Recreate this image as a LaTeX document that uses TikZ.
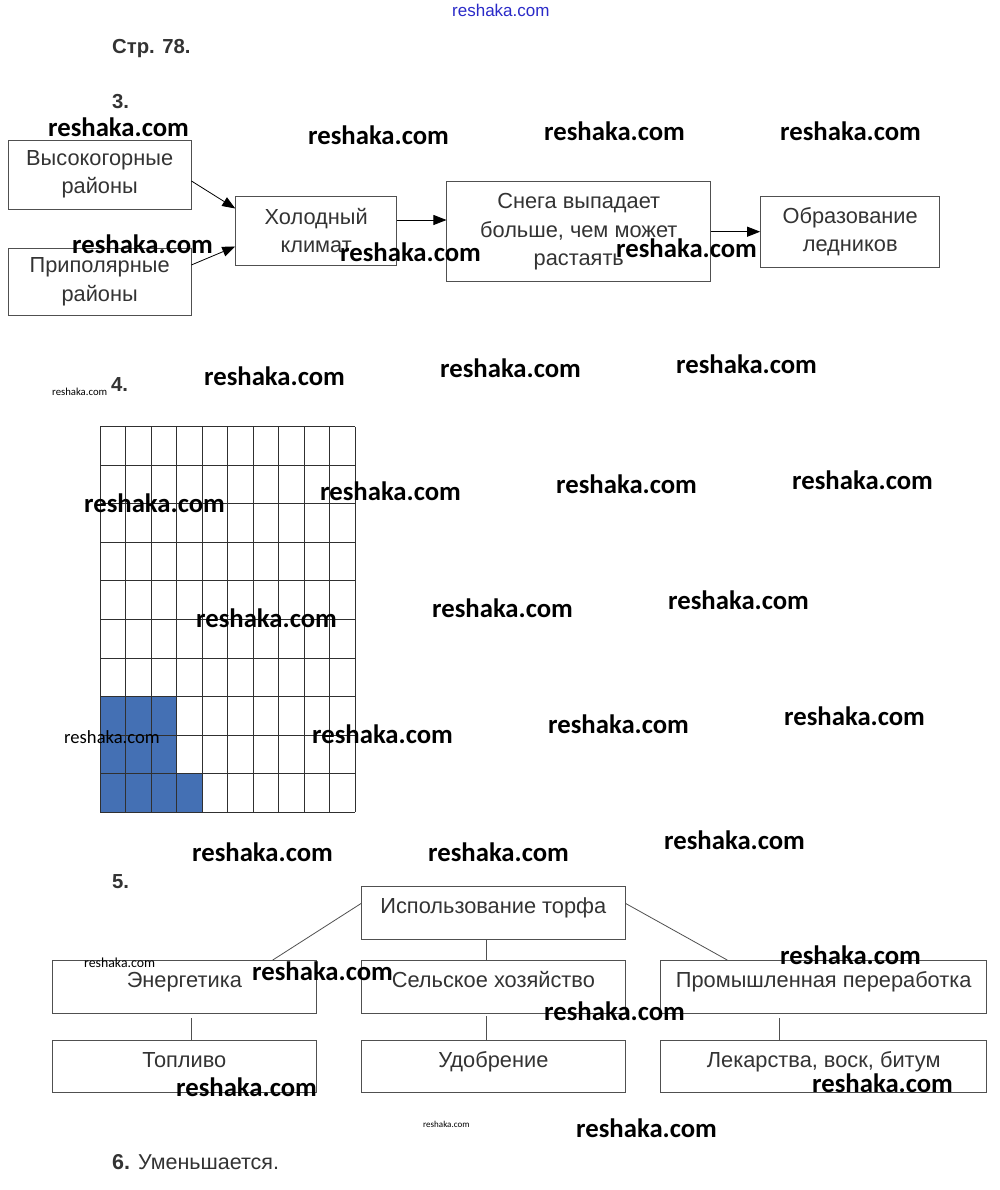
\documentclass[tikz,border=0pt]{standalone}
\usepackage{fontspec}
\setmainfont{Liberation Sans}
\newfontfamily\wmfont{Carlito}
\usetikzlibrary{arrows.meta}
\definecolor{txt}{HTML}{333333}
\definecolor{boxc}{HTML}{505050}
\definecolor{gridc}{HTML}{303030}
\definecolor{cellblue}{HTML}{4470B4}
\definecolor{wmblue}{HTML}{2A2AC8}
\begin{document}
\begin{tikzpicture}[x=1pt,y=-1pt,
  box/.style={draw=boxc, line width=0.9pt, inner sep=0pt, text=txt, align=center, font=\fontsize{21.8}{28.5}\selectfont},
  sbox/.style={draw=boxc, line width=0.9pt, inner sep=0pt, text=txt, font=\fontsize{21.8}{24}\selectfont, text height=15.5pt, text depth=14pt, minimum height=52.5pt},
  arr/.style={-{Triangle[length=13pt,width=10pt]}, line width=0.8pt, black},
  con/.style={line width=0.8pt, draw=boxc},
  wm/.style={anchor=base west, inner sep=0pt, font=\wmfont\bfseries\fontsize{26.7}{30}\selectfont, text=black},
  wms/.style={anchor=base west, inner sep=0pt, text=black},
  hd/.style={anchor=base west, inner sep=0pt, text=txt, font=\bfseries\fontsize{20.3}{22}\selectfont}
]
\fill[white] (0,0) rectangle (1000,1190);
\useasboundingbox (0,0) rectangle (1000,1190);

% header
\node[anchor=base west, inner sep=0pt, text=wmblue, font=\fontsize{17}{20}\selectfont] (top) at (452,17) {reshaka.com};
\node[hd] (h0) at (112,54) {Стр. 78.};
\node[hd] (h3) at (112,109) {3.};

% section 3
\node[box, minimum width=182.7pt, minimum height=69pt] (A) at (99.65,174.5) {Высокогорные\\районы};
\node[box, minimum width=182.7pt, minimum height=66.7pt] (B) at (99.65,281.65) {Приполярные\\районы};
\node[box, minimum width=161pt, minimum height=69pt] (C) at (316.2,230.5) {Холодный\\климат};
\node[box, minimum width=263.7pt, minimum height=99.8pt] (D) at (578.75,231.7) {Снега выпадает\\больше, чем может\\растаять};
\node[box, minimum width=179.2pt, minimum height=70.6pt] (E) at (850.2,231.7) {Образование\\ледников};
\draw[arr] ([yshift=-6.5pt]A.east) -- ([yshift=22pt]C.west);
\draw[arr] ([yshift=16.7pt]B.east) -- ([yshift=-16pt]C.west);
\draw[arr] ([yshift=10.5pt]C.east) -- ([yshift=10.5pt]C.east -| D.west);
\draw[arr] (D.east) -- (E.west);

% section 4
\node[hd] (h4) at (111,391) {4.};
\fill[cellblue] (100,696.6) rectangle (176.6,812.3);
\fill[cellblue] (176.6,773.75) rectangle (202.1,812.3);
\foreach \i in {0,...,10} \draw[gridc, line width=0.9pt] (100+\i*25.53, 426.7) -- (100+\i*25.53, 812.3);
\foreach \j in {0,...,10} \draw[gridc, line width=0.9pt] (100, 426.7+\j*38.56) -- (355.3, 426.7+\j*38.56);

% section 5
\node[hd] (h5) at (112,888) {5.};
\node[sbox, minimum width=263.3pt] (T) at (493.35,912.85) {Использование торфа};
\node[sbox, minimum width=263.3pt] (E1) at (184.35,986.75) {Энергетика};
\node[sbox, minimum width=263.3pt] (S) at (493.35,986.75) {Сельское хозяйство};
\node[sbox, minimum width=326pt] (P) at (823.7,986.75) {Промышленная переработка};
\node[sbox, minimum width=263.3pt] (F) at (184.35,1066.6) {Топливо};
\node[sbox, minimum width=263.3pt] (U) at (493.35,1066.6) {Удобрение};
\node[sbox, minimum width=326pt] (L) at (823.7,1066.6) {Лекарства, воск, битум};
\draw[con] ([yshift=9.5pt]T.west) -- ([xshift=88.35pt]E1.north);
\draw[con] ([yshift=9.5pt]T.east) -- ([xshift=-96.4pt]P.north);
\draw[con] ([xshift=-6.6pt]T.south) -- ([xshift=-6.6pt]S.north);
\draw[con] ([xshift=-6.6pt,yshift=-3pt]S.south) -- ([xshift=-6.6pt]U.north);
\draw[con] ([xshift=6.65pt,yshift=-5pt]E1.south) -- ([xshift=6.65pt]F.north);
\draw[con] ([xshift=-44.4pt,yshift=-5pt]P.south) -- ([xshift=-44.4pt]L.north);

% section 6
\node[anchor=base west, inner sep=0pt, text=txt, font=\fontsize{21.5}{24}\selectfont] (h6) at (112,1169) {\textbf{6.} Уменьшается.};

% watermarks
\foreach \x/\y [count=\k] in {48/137, 308/145, 544/141, 780/141, 72/253, 340/261, 616/257,
  204/385, 440/377, 676/373, 84/512, 320/500, 556/493, 792/489, 196/627, 432/617, 668/609,
  312/743, 548/733, 784/725, 192/861, 428/861, 664/849, 252/980, 780/964, 544/1020,
  176/1096, 812/1092, 576/1137}
  \node[wm] (w\k) at (\x,\y) {reshaka.com};
\node[wms, font=\wmfont\fontsize{10.7}{12}\selectfont] (s1) at (52,395) {reshaka.com};
\node[wms, font=\wmfont\fontsize{18.6}{20}\selectfont] (s2) at (64,743) {reshaka.com};
\node[wms, font=\wmfont\fontsize{13.8}{15}\selectfont] (s3) at (84,967) {reshaka.com};
\node[wms, font=\wmfont\fontsize{9}{10}\selectfont] (s4) at (423,1127) {reshaka.com};
\end{tikzpicture}
\end{document}
